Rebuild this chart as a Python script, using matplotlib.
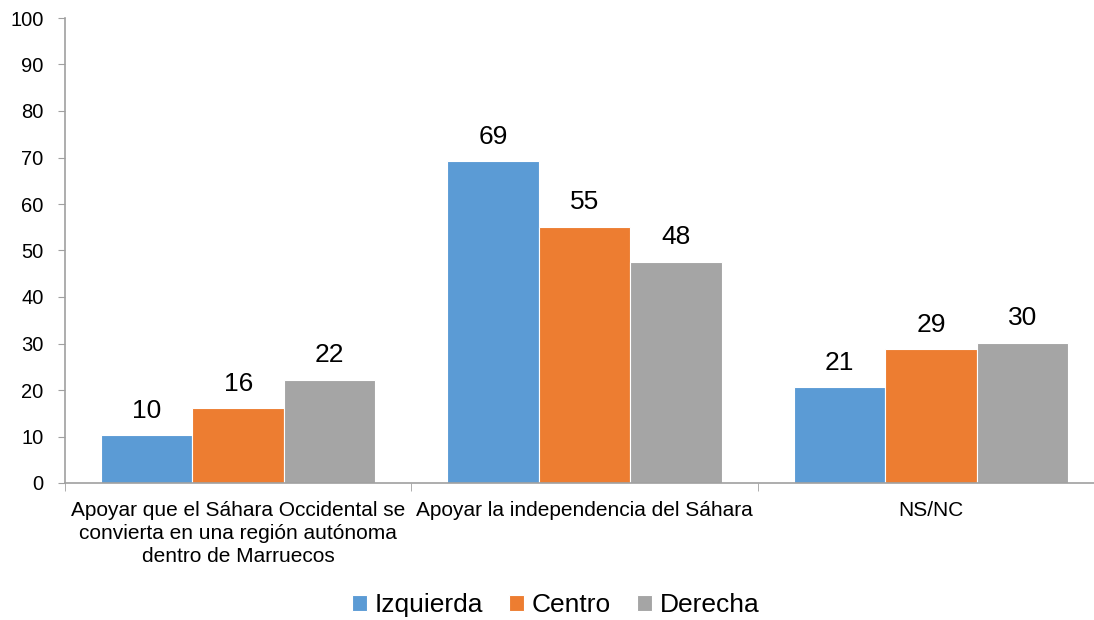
import numpy as np
import matplotlib.pyplot as plt

plt.rcParams['font.family'] = ['Liberation Sans', 'DejaVu Sans']

# categories and series
categorias = ["Apoyar que el Sáhara Occidental se\nconvierta en una región autónoma\ndentro de Marruecos",
              "Apoyar la independencia del Sáhara",
              "NS/NC"]
series = ["Izquierda", "Centro", "Derecha"]
izquierda = [10.3, 69.2, 20.6]
centro = [16.1, 55.1, 28.8]
derecha = [22.2, 47.6, 30.2]
colores = ["#5B9BD5", "#ED7D31", "#A5A5A5"]

fig = plt.figure(figsize=(10.94, 6.2), dpi=100)
ax = fig.add_axes([65/1094, 137/620, 1 - 65/1094, 465/620])

x = np.arange(len(categorias))
w = 0.264
for i, (nombre, vals) in enumerate(zip(series, [izquierda, centro, derecha])):
    bars = ax.bar(x + (i - 1)*w, vals, w, color=colores[i], label=nombre,
                  edgecolor='white', linewidth=0.8)
    for b, v in zip(bars, vals):
        ax.annotate(f"{round(v):.0f}", (b.get_x() + b.get_width()/2, v),
                    xytext=(0, 9), textcoords='offset points',
                    ha='center', va='bottom', fontsize=19)

ax.set_ylim(0, 100)
ax.set_xlim(-0.5, 2.47)
ax.set_yticks(np.arange(0, 101, 10))
ax.tick_params(axis='y', labelsize=14.5, length=5, color='#a0a0a0', pad=10.5)
ax.set_xticks(x)
ax.set_xticklabels(categorias, fontsize=15, linespacing=1.25)
ax.tick_params(axis='x', which='major', length=0, pad=13)
ax.set_xticks([-0.5, 0.5, 1.5], minor=True)
ax.tick_params(axis='x', which='minor', length=6, color='#a0a0a0')

for s in ['top', 'right']:
    ax.spines[s].set_visible(False)
for s in ['left', 'bottom']:
    ax.spines[s].set_color('#a0a0a0')
    ax.spines[s].set_linewidth(1.2)

fig.legend(loc='center', bbox_to_anchor=(0.508, 1 - 605/620), ncol=3, frameon=False,
           fontsize=19, handlelength=0.55, handleheight=0.55, handletextpad=0.3,
           columnspacing=1.0)

fig.savefig("out.png", dpi=100)
